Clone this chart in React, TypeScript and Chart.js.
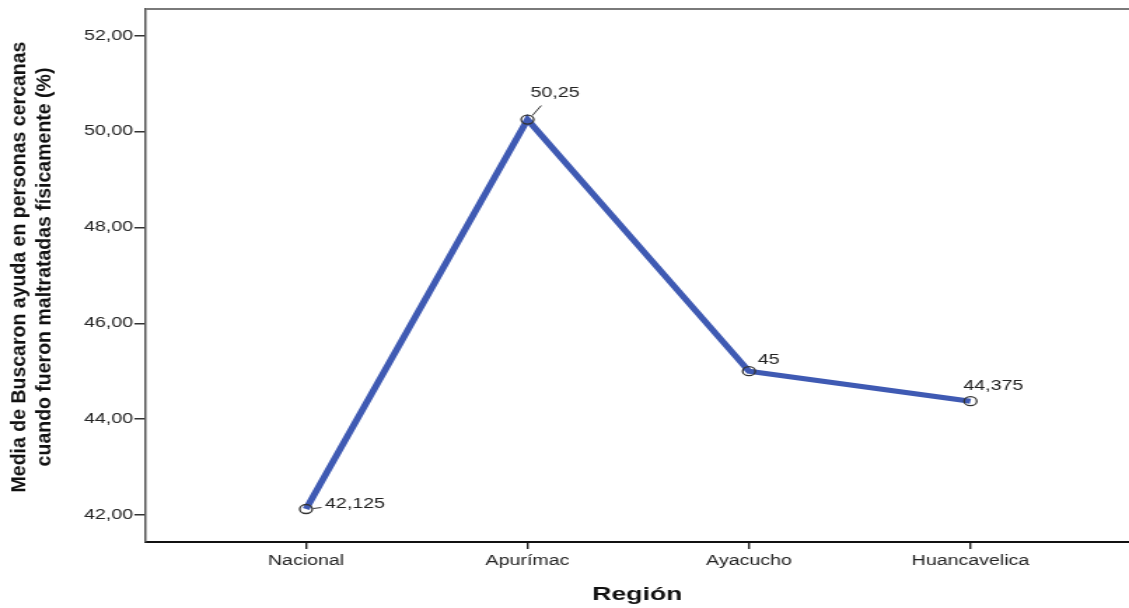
import { useEffect, useRef } from 'react';
import { Chart, registerables } from 'chart.js';

Chart.register(...registerables);

const categories = ['Nacional', 'Apurímac', 'Ayacucho', 'Huancavelica'];
const means = [42.125, 50.25, 45, 44.375];
const valueLabels = ['42,125', '50,25', '45', '44,375'];
const yTickValues = [42, 44, 46, 48, 50, 52];
const yTitleLines = ['Media de Buscaron ayuda en personas cercanas', 'cuando fueron maltratadas físicamente (%)'];
const xTitle = 'Región';

// canvas is drawn narrower and stretched horizontally (like the reference)
const OUT_W = 1129;
const OUT_H = 608;
const W = 806;
const S = OUT_W / W;

const FONT = '"Liberation Sans", Arial, sans-serif';

// label text offsets (internal px) relative to the point
const labelOffsets = [
  [13.6, -5],
  [2.1, -26],
  [6.4, -11.5],
  [-5, -15],
];
const leaderLines = [
  [[5, -0.5], [11, -1.5]],
  [[3.4, -4], [9.8, -14]],
  null,
  null,
];

const framePlugin = {
  id: 'frameAndLabels',
  afterDraw(chart: any) {
    const { ctx, chartArea } = chart;
    // top frame line
    ctx.save();
    ctx.strokeStyle = '#7a7a7a';
    ctx.lineWidth = 2;
    ctx.beginPath();
    ctx.moveTo(chartArea.left, chartArea.top);
    ctx.lineTo(W + 10, chartArea.top);
    ctx.stroke();
    ctx.restore();

    // data labels
    const meta = chart.getDatasetMeta(0);
    ctx.save();
    ctx.font = `14px ${FONT}`;
    ctx.fillStyle = '#222';
    ctx.textAlign = 'left';
    ctx.textBaseline = 'middle';
    ctx.strokeStyle = '#333';
    ctx.lineWidth = 1;
    meta.data.forEach((pt: any, i: number) => {
      const [dx, dy] = labelOffsets[i];
      ctx.fillText(valueLabels[i], pt.x + dx, pt.y + dy);
      const ll = leaderLines[i];
      if (ll) {
        ctx.beginPath();
        ctx.moveTo(pt.x + ll[0][0], pt.y + ll[0][1]);
        ctx.lineTo(pt.x + ll[1][0], pt.y + ll[1][1]);
        ctx.stroke();
      }
    });
    ctx.restore();

    // y axis title (compensate horizontal stretch)
    ctx.save();
    ctx.translate(20 / S, 267);
    ctx.scale(1 / S, 1);
    ctx.rotate(-Math.PI / 2);
    ctx.font = `bold 19.5px ${FONT}`;
    ctx.fillStyle = '#111';
    ctx.textAlign = 'center';
    ctx.textBaseline = 'middle';
    ctx.fillText(yTitleLines[0], 0, 0);
    ctx.fillText(yTitleLines[1], 0, 24.5);
    ctx.restore();
  },
};

export default function App() {
  const ref = useRef<HTMLCanvasElement | null>(null);

  useEffect(() => {
    document.body.style.margin = '0';
    document.documentElement.style.overflow = 'hidden';
    const canvas = ref.current;
    if (!canvas) return;
    const chart = new Chart(canvas, {
      type: 'line',
      data: {
        datasets: [
          {
            data: means.map((v, i) => ({ x: i, y: v })),
            borderColor: '#3F5AB3',
            borderWidth: 5,
            tension: 0,
            pointRadius: 4.5,
            pointBorderWidth: 1.3,
            pointBorderColor: '#333',
            pointBackgroundColor: 'rgba(255,255,255,0)',
            fill: false,
          },
        ],
      },
      options: {
        responsive: false,
        animation: false,
        devicePixelRatio: 1,
        layout: { autoPadding: false, padding: { top: 9, left: 0, right: 0, bottom: 0 } },
        plugins: { legend: { display: false }, tooltip: { enabled: false } },
        scales: {
          x: {
            type: 'linear',
            min: -0.724,
            max: 3.716,
            afterBuildTicks: (s: any) => {
              s.ticks = categories.map((_, i) => ({ value: i }));
            },
            afterFit: (s: any) => {
              s.height = 66;
              s.paddingLeft = 0;
              s.paddingRight = 0;
            },
            ticks: {
              callback: (v: any) => categories[v] ?? '',
              font: { family: FONT, size: 14 },
              color: '#222',
              padding: 4,
              maxRotation: 0,
              autoSkip: false,
            },
            grid: { display: true, drawOnChartArea: false, drawTicks: true, tickLength: 7, color: '#222', lineWidth: 1.4 },
            border: { display: true, color: '#111', width: 2 },
            title: {
              display: true,
              text: xTitle,
              font: { family: FONT, size: 19, weight: 'bold' },
              color: '#111',
              padding: { top: 0, bottom: 2 },
            },
          },
          y: {
            min: 41.437,
            max: 52.557,
            afterBuildTicks: (s: any) => {
              s.ticks = yTickValues.map((v) => ({ value: v }));
            },
            afterFit: (s: any) => {
              s.width = 104;
              s.paddingTop = 0;
              s.paddingBottom = 0;
            },
            ticks: {
              callback: (v: any) => Number(v).toFixed(2).replace('.', ','),
              font: { family: FONT, size: 14 },
              color: '#222',
              padding: 1,
            },
            grid: { display: true, drawOnChartArea: false, drawTicks: true, tickLength: 8, color: '#333', lineWidth: 1.5 },
            border: { display: true, color: '#555', width: 1.5 },
          },
        },
      },
      plugins: [framePlugin],
    } as any);
    return () => chart.destroy();
  }, []);

  return (
    <canvas
      ref={ref}
      width={W}
      height={OUT_H}
      style={{ width: `${OUT_W}px`, height: `${OUT_H}px`, display: 'block' }}
    />
  );
}
